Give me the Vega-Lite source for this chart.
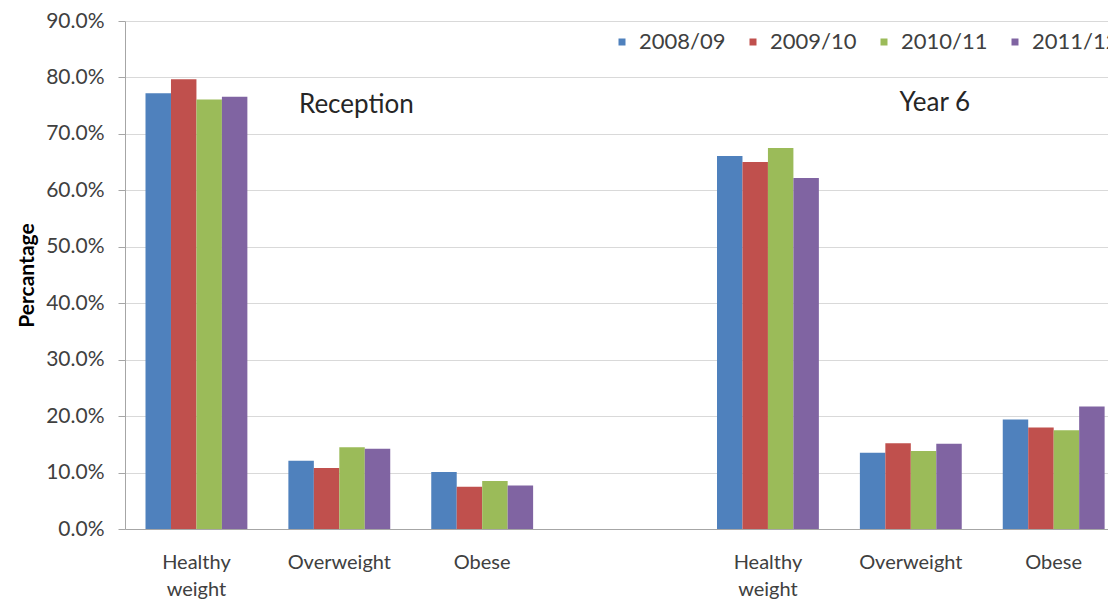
{
  "$schema": "https://vega.github.io/schema/vega-lite/v6.json",
  "autosize": {"type": "none"},
  "width": 983,
  "height": 508,
  "padding": {"left": 125, "top": 21, "right": 0, "bottom": 76},
  "background": "white",
  "config": {
    "font": "Lato",
    "view": {"stroke": null}
  },
  "data": {
    "values": [
      {"category": "Reception: Healthy weight", "year": "2008/09", "value": 77.2},
      {"category": "Reception: Healthy weight", "year": "2009/10", "value": 79.7},
      {"category": "Reception: Healthy weight", "year": "2010/11", "value": 76.1},
      {"category": "Reception: Healthy weight", "year": "2011/12", "value": 76.6},
      {"category": "Reception: Overweight", "year": "2008/09", "value": 12.1},
      {"category": "Reception: Overweight", "year": "2009/10", "value": 10.8},
      {"category": "Reception: Overweight", "year": "2010/11", "value": 14.5},
      {"category": "Reception: Overweight", "year": "2011/12", "value": 14.2},
      {"category": "Reception: Obese", "year": "2008/09", "value": 10.1},
      {"category": "Reception: Obese", "year": "2009/10", "value": 7.5},
      {"category": "Reception: Obese", "year": "2010/11", "value": 8.5},
      {"category": "Reception: Obese", "year": "2011/12", "value": 7.7},
      {"category": "Year 6: Healthy weight", "year": "2008/09", "value": 66.1},
      {"category": "Year 6: Healthy weight", "year": "2009/10", "value": 65.0},
      {"category": "Year 6: Healthy weight", "year": "2010/11", "value": 67.5},
      {"category": "Year 6: Healthy weight", "year": "2011/12", "value": 62.2},
      {"category": "Year 6: Overweight", "year": "2008/09", "value": 13.5},
      {"category": "Year 6: Overweight", "year": "2009/10", "value": 15.2},
      {"category": "Year 6: Overweight", "year": "2010/11", "value": 13.8},
      {"category": "Year 6: Overweight", "year": "2011/12", "value": 15.1},
      {"category": "Year 6: Obese", "year": "2008/09", "value": 19.4},
      {"category": "Year 6: Obese", "year": "2009/10", "value": 18.0},
      {"category": "Year 6: Obese", "year": "2010/11", "value": 17.5},
      {"category": "Year 6: Obese", "year": "2011/12", "value": 21.7}
    ]
  },
  "encoding": {
    "x": {
      "field": "category",
      "type": "nominal",
      "sort": null,
      "scale": {
        "domain": ["Reception: Healthy weight", "Reception: Overweight", "Reception: Obese", "gap", "Year 6: Healthy weight", "Year 6: Overweight", "Year 6: Obese", "end"],
        "range": [0, 1143],
        "paddingInner": 0.287,
        "paddingOuter": 0.1435
      },
      "axis": {
        "title": null,
        "labelAngle": 0,
        "labelFontSize": 20,
        "labelColor": "#404040",
        "labelPadding": 23,
        "labelLineHeight": 27,
        "labelBaseline": "top",
        "ticks": false,
        "domainColor": "#a6a6a6",
        "labelExpr": "indexof(datum.value, 'Healthy') >= 0 ? ['Healthy', 'weight'] : (indexof(datum.value, 'Overweight') >= 0 ? 'Overweight' : (indexof(datum.value, 'Obese') >= 0 ? 'Obese' : ''))"
      }
    },
    "y": {
      "field": "value",
      "type": "quantitative",
      "scale": {"domain": [0, 90]},
      "axis": {
        "title": "Percantage",
        "titleFontSize": 21,
        "titleFontWeight": "bold",
        "titleColor": "#000000",
        "titlePadding": 8,
        "values": [0, 10, 20, 30, 40, 50, 60, 70, 80, 90],
        "labelExpr": "format(datum.value, '.1f') + '%'",
        "labelFontSize": 21,
        "labelColor": "#404040",
        "labelPadding": 14,
        "tickSize": 7,
        "tickColor": "#a6a6a6",
        "domainColor": "#a6a6a6",
        "gridColor": "#d9d9d9",
        "grid": true
      }
    }
  },
  "layer": [
    {
      "mark": {"type": "bar", "clip": true},
      "encoding": {
        "xOffset": {
          "field": "year",
          "type": "nominal",
          "scale": {"domain": ["2008/09", "2009/10", "2010/11", "2011/12"], "paddingInner": 0, "paddingOuter": 0}
        },
        "color": {
          "field": "year",
          "type": "nominal",
          "scale": {"domain": ["2008/09", "2009/10", "2010/11", "2011/12"], "range": ["#4F81BD", "#C0504D", "#9BBB59", "#8064A2"]},
          "legend": {
            "title": null,
            "orient": "none",
            "direction": "horizontal",
            "legendX": 486,
            "legendY": 10,
            "symbolType": "square",
            "symbolSize": 49,
            "symbolStrokeWidth": 0,
            "symbolOffset": 0,
            "labelFontSize": 22,
            "labelColor": "#404040",
            "labelOffset": 6,
            "columnPadding": 16
          }
        }
      }
    },
    {
      "transform": [{"filter": "datum.category == 'Reception: Overweight' && datum.year == '2008/09'"}],
      "mark": {"type": "text", "fontSize": 26, "color": "#262626", "dx": 17},
      "encoding": {
        "y": {"datum": 75.1},
        "text": {"value": "Reception"}
      }
    },
    {
      "transform": [{"filter": "datum.category == 'Year 6: Overweight' && datum.year == '2008/09'"}],
      "mark": {"type": "text", "fontSize": 26, "color": "#262626", "dx": 24},
      "encoding": {
        "y": {"datum": 75.5},
        "text": {"value": "Year 6"}
      }
    }
  ]
}
